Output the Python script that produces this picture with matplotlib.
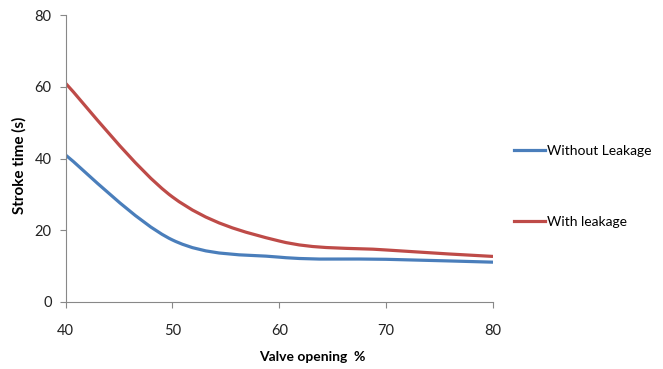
import numpy as np
import matplotlib.pyplot as plt
from matplotlib.path import Path
from matplotlib.patches import PathPatch
from matplotlib.lines import Line2D

# values
valve_opening = [40, 50, 60, 70, 80]
without_leakage = [41, 17.3, 12.5, 11.9, 11.1]
with_leakage = [61, 29.3, 17.0, 14.5, 12.7]

blue = '#4A7EBB'
red = '#BE4B48'

plt.rcParams['font.family'] = ['Lato', 'DejaVu Sans']


def smooth_path(x, y):
    # cubic bezier through the points (like Excel's smoothed line)
    x = np.asarray(x, float)
    y = np.asarray(y, float)
    verts = [(x[0], y[0])]
    codes = [Path.MOVETO]
    n = len(x)
    for i in range(n - 1):
        x0, y0 = (x[i - 1], y[i - 1]) if i > 0 else (x[i], y[i])
        x3, y3 = (x[i + 2], y[i + 2]) if i + 2 < n else (x[i + 1], y[i + 1])
        c1 = (x[i] + (x[i + 1] - x0) / 6, y[i] + (y[i + 1] - y0) / 6)
        c2 = (x[i + 1] - (x3 - x[i]) / 6, y[i + 1] - (y3 - y[i]) / 6)
        verts += [c1, c2, (x[i + 1], y[i + 1])]
        codes += [Path.CURVE4] * 3
    return Path(verts, codes)


fig = plt.figure(figsize=(6.63, 3.69), dpi=100)
ax = fig.add_axes([0.0988, 0.1816, 0.6448, 0.7777])

for ys, c in [(without_leakage, blue), (with_leakage, red)]:
    ax.add_patch(PathPatch(smooth_path(valve_opening, ys), facecolor='none',
                           edgecolor=c, linewidth=2.3, capstyle='butt'))

ax.set_xlim(40, 80)
ax.set_ylim(0, 80)
ax.set_xticks([40, 50, 60, 70, 80])
ax.set_yticks([0, 20, 40, 60, 80])
for s in ['top', 'right']:
    ax.spines[s].set_visible(False)
for s in ['left', 'bottom']:
    ax.spines[s].set_color('#888888')
    ax.spines[s].set_linewidth(0.8)
ax.tick_params(colors='#888888', length=4, width=0.8, labelcolor='#222222', labelsize=10.5)
ax.tick_params(axis='x', pad=12)
ax.tick_params(axis='y', pad=6)

ax.set_xlabel('Valve opening  %', fontsize=10, fontweight='bold')
ax.set_ylabel('Stroke time (s)', fontsize=11, fontweight='bold')
ax.xaxis.set_label_coords(0.577, -0.172)
ax.yaxis.set_label_coords(-0.091, 0.477)

handles = [Line2D([], [], color=blue, linewidth=2.3),
           Line2D([], [], color=red, linewidth=2.3)]
fig.legend(handles, ['Without Leakage', 'With leakage'], loc='upper left',
           bbox_to_anchor=(0.757, 0.64), frameon=False, fontsize=10,
           handlelength=2.2, handletextpad=0.15, labelspacing=4.2)

fig.savefig('out.png', dpi=100)
